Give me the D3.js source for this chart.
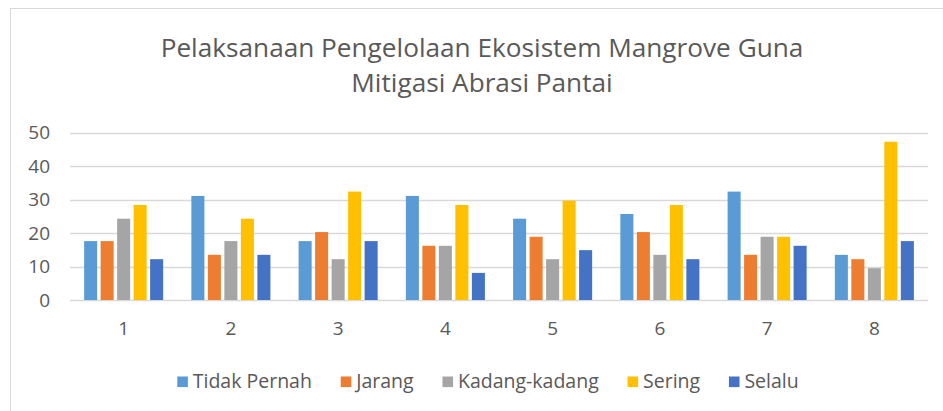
<!DOCTYPE html>
<html>
<head>
<meta charset="utf-8">
<script src="https://cdn.jsdelivr.net/npm/d3@7"></script>
<style>
  body { margin: 0; background: #fff; }
  svg text { font-family: "Open Sans", sans-serif; fill: #595959; }
</style>
</head>
<body>
<svg id="grafico" width="943" height="411"></svg>
<script>
let kategori = ['1', '2', '3', '4', '5', '6', '7', '8'];
let seri = ['Tidak Pernah', 'Jarang', 'Kadang-kadang', 'Sering', 'Selalu'];
let warna = ['#5B9BD5', '#ED7D31', '#A5A5A5', '#FFC000', '#4472C4'];

// nilai per seri (persen)
let tidakPernah = [17.6, 31.1, 17.6, 31.1, 24.3, 25.7, 32.4, 13.5];
let jarang      = [17.6, 13.5, 20.3, 16.2, 18.9, 20.3, 13.5, 12.2];
let kadang      = [24.3, 17.6, 12.2, 16.2, 12.2, 13.5, 18.9, 9.5];
let sering      = [28.4, 24.3, 32.4, 28.4, 29.7, 28.4, 18.9, 47.3];
let selalu      = [12.2, 13.5, 17.6, 8.1, 14.9, 12.2, 16.2, 17.6];
let ticksY = [0, 10, 20, 30, 40, 50];

let nilai = [tidakPernah, jarang, kadang, sering, selalu];

let svg = d3.select('#grafico');

// bingkai grafik
svg.append('rect')
    .attr('x', 10.5).attr('y', 8.5)
    .attr('width', 1000).attr('height', 1000)
    .attr('fill', 'none')
    .attr('stroke', '#D9D9D9');

// judul
let judul = svg.append('text')
    .attr('text-anchor', 'middle')
    .style('font-size', '26.2px');
judul.append('tspan').attr('x', 482).attr('y', 57)
    .text('Pelaksanaan Pengelolaan Ekosistem Mangrove Guna');
judul.append('tspan').attr('x', 482).attr('y', 92)
    .text('Mitigasi Abrasi Pantai');

let kiri = 70, kanan = 928, atas = 132.7, bawah = 300;

let fny = d3.scaleLinear()
    .domain([0, 50])
    .range([bawah, atas]);

let fnx = d3.scaleBand()
    .domain(kategori)
    .range([kiri, kanan])
    .paddingInner(0.263)
    .paddingOuter(0.1317);

let fnx1 = d3.scaleBand()
    .domain(seri)
    .range([0, fnx.bandwidth()])
    .paddingInner(0.21);

// garis bantu
svg.append('g')
    .selectAll('line')
    .data(ticksY)
    .join('line')
    .attr('x1', kiri).attr('x2', kanan)
    .attr('y1', d => Math.round(fny(d)) + 0.5)
    .attr('y2', d => Math.round(fny(d)) + 0.5)
    .attr('stroke', '#D9D9D9')
    .attr('stroke-width', 1.3);

// label sumbu Y
let sumbuY = svg.append('g')
    .attr('transform', `translate(50,0)`)
    .call(d3.axisLeft(fny).tickValues(ticksY).tickSize(0).tickPadding(0));
sumbuY.select('.domain').remove();
sumbuY.selectAll('text')
    .style('font-size', '19px')
    .attr('fill', '#595959');

// label sumbu X
let sumbuX = svg.append('g')
    .attr('transform', `translate(0,${bawah + 21})`)
    .call(d3.axisBottom(fnx).tickSize(0).tickPadding(0));
sumbuX.select('.domain').remove();
sumbuX.selectAll('text')
    .style('font-size', '19px')
    .attr('fill', '#595959');

// batang
let grup = svg.append('g')
    .selectAll('g')
    .data(kategori)
    .join('g')
    .attr('transform', d => `translate(${fnx(d)},0)`);

grup.selectAll('rect')
    .data((d, i) => seri.map((s, j) => ({ s: s, j: j, v: nilai[j][i] })))
    .join('rect')
    .attr('x', d => fnx1(d.s))
    .attr('y', d => fny(d.v))
    .attr('width', fnx1.bandwidth())
    .attr('height', d => bawah - fny(d.v))
    .attr('fill', d => warna[d.j]);

// legenda
let legenda = svg.append('g');
let item = legenda.selectAll('g')
    .data(seri)
    .join('g');
item.append('rect')
    .attr('y', 376.5)
    .attr('width', 10.6).attr('height', 10.6)
    .attr('fill', (d, i) => warna[i]);
item.append('text')
    .attr('x', 15.5)
    .attr('y', 388)
    .style('font-size', '19.5px')
    .text(d => d);

let jarak = 28.8;
let posisi = 0;
item.each(function () {
    let g = d3.select(this);
    let w = 15.5 + g.select('text').node().getComputedTextLength();
    g.attr('transform', `translate(${posisi},0)`);
    posisi += w + jarak;
});
let totalLebar = posisi - jarak;
legenda.attr('transform', `translate(${488 - totalLebar / 2},0)`);
</script>
</body>
</html>
